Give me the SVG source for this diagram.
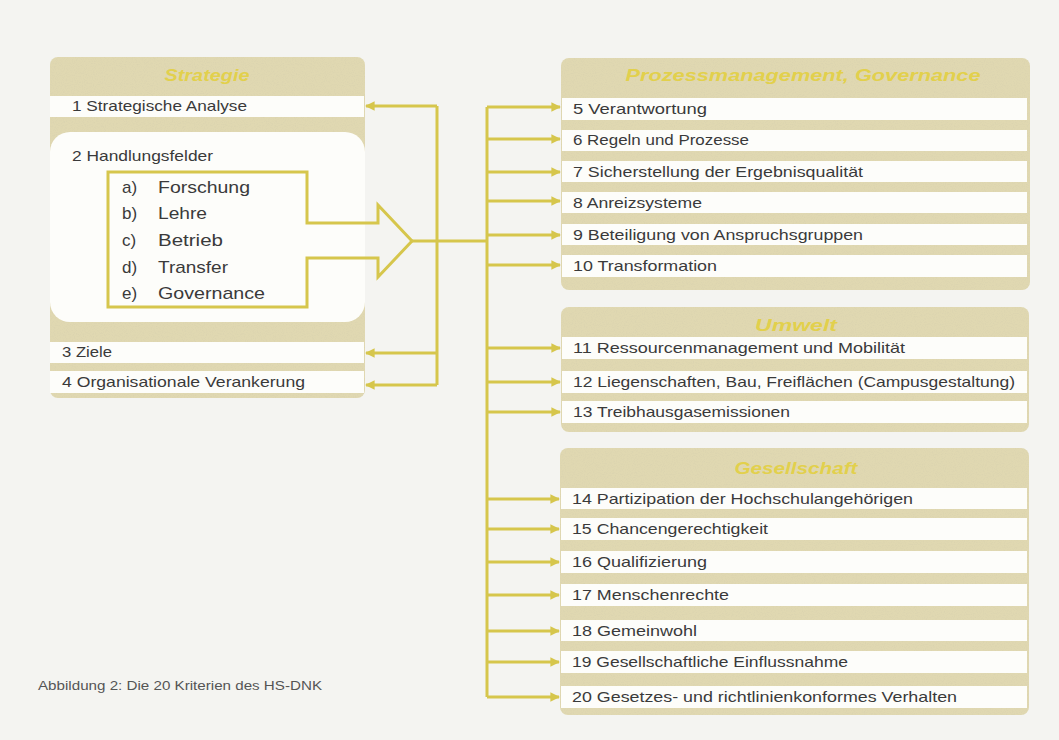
<svg xmlns="http://www.w3.org/2000/svg" width="1059" height="740" viewBox="0 0 1059 740">
<defs>
<style>
.panel{fill:#e0d8b1;}
.row{fill:#fdfdfa;}
.t{font-family:"Liberation Sans",Arial,sans-serif;font-size:15px;fill:#3a3a3a;}
.big{font-family:"Liberation Sans",Arial,sans-serif;font-size:17px;fill:#3a3a3a;}
.hd{font-family:"Liberation Sans",Arial,sans-serif;font-size:17px;font-weight:bold;font-style:italic;fill:#e2d04c;text-anchor:middle;}
.cap{font-family:"Liberation Sans",Arial,sans-serif;font-size:12px;fill:#555;}
.con{fill:none;stroke:#d6c64c;stroke-width:3;}
</style>
<marker id="ah" viewBox="0 0 10 10" refX="9" refY="5" markerWidth="3.4" markerHeight="3.2" orient="auto" markerUnits="strokeWidth">
<path d="M0,0 L10,5 L0,10 Z" fill="#d6c64c"/>
</marker>
<filter id="grain" x="0" y="0" width="100%" height="100%">
<feTurbulence type="fractalNoise" baseFrequency="0.9" numOctaves="2" seed="3" result="n"/>
<feColorMatrix type="matrix" values="0 0 0 0 0.55  0 0 0 0 0.52  0 0 0 0 0.4  0 0 0 -1.6 0.9" in="n" result="c"/>
<feComposite in="c" in2="SourceGraphic" operator="in"/>
</filter>
</defs>
<rect width="1059" height="740" fill="#f4f4f1"/>

<g id="strategie">
<rect class="panel" x="50" y="57" width="315" height="341" rx="8"/>
<rect x="50" y="57" width="315" height="341" rx="8" fill="#000" filter="url(#grain)" opacity="0.25"/>
<text class="hd" x="207" y="81" textLength="85" lengthAdjust="spacingAndGlyphs">Strategie</text>
<g id="k1"><rect class="row" x="50" y="96" width="314" height="21"/><text class="t" x="72" y="111" textLength="175" lengthAdjust="spacingAndGlyphs">1 Strategische Analyse</text></g>
<g id="k2">
<rect class="row" x="50" y="132" width="315" height="190" rx="20"/>
<text class="t" x="72" y="161" textLength="141" lengthAdjust="spacingAndGlyphs">2 Handlungsfelder</text>
<text class="big" x="122" y="193">a)</text><text class="big" x="158" y="193" textLength="92" lengthAdjust="spacingAndGlyphs">Forschung</text>
<text class="big" x="122" y="219">b)</text><text class="big" x="158" y="219" textLength="49" lengthAdjust="spacingAndGlyphs">Lehre</text>
<text class="big" x="122" y="246">c)</text><text class="big" x="158" y="246" textLength="65" lengthAdjust="spacingAndGlyphs">Betrieb</text>
<text class="big" x="122" y="273">d)</text><text class="big" x="158" y="273" textLength="70" lengthAdjust="spacingAndGlyphs">Transfer</text>
<text class="big" x="122" y="299">e)</text><text class="big" x="158" y="299" textLength="107" lengthAdjust="spacingAndGlyphs">Governance</text>
</g>
<g id="k3"><rect class="row" x="50" y="342" width="314" height="21"/><text class="t" x="62" y="357" textLength="50" lengthAdjust="spacingAndGlyphs">3 Ziele</text></g>
<g id="k4"><rect class="row" x="50" y="371" width="314" height="22"/><text class="t" x="62" y="387" textLength="243" lengthAdjust="spacingAndGlyphs">4 Organisationale Verankerung</text></g>
</g>

<g id="prozess">
<rect class="panel" x="561" y="58" width="469" height="232" rx="8"/>
<rect x="561" y="58" width="469" height="232" rx="8" fill="#000" filter="url(#grain)" opacity="0.25"/>
<text class="hd" x="803" y="81" textLength="355" lengthAdjust="spacingAndGlyphs">Prozessmanagement, Governance</text>
<g id="k5"><rect class="row" x="562" y="98" width="465" height="22"/><text class="t" x="573" y="114" textLength="134" lengthAdjust="spacingAndGlyphs">5 Verantwortung</text></g>
<g id="k6"><rect class="row" x="562" y="130" width="465" height="21"/><text class="t" x="573" y="145" textLength="176" lengthAdjust="spacingAndGlyphs">6 Regeln und Prozesse</text></g>
<g id="k7"><rect class="row" x="562" y="161" width="465" height="21"/><text class="t" x="573" y="177" textLength="290" lengthAdjust="spacingAndGlyphs">7 Sicherstellung der Ergebnisqualität</text></g>
<g id="k8"><rect class="row" x="562" y="192" width="465" height="21"/><text class="t" x="573" y="208" textLength="129" lengthAdjust="spacingAndGlyphs">8 Anreizsysteme</text></g>
<g id="k9"><rect class="row" x="562" y="224" width="465" height="21"/><text class="t" x="573" y="240" textLength="290" lengthAdjust="spacingAndGlyphs">9 Beteiligung von Anspruchsgruppen</text></g>
<g id="k10"><rect class="row" x="562" y="255" width="465" height="22"/><text class="t" x="573" y="271" textLength="144" lengthAdjust="spacingAndGlyphs">10 Transformation</text></g>
</g>

<g id="umwelt">
<rect class="panel" x="561" y="307" width="468" height="125" rx="8"/>
<rect x="561" y="307" width="468" height="125" rx="8" fill="#000" filter="url(#grain)" opacity="0.25"/>
<text class="hd" x="796" y="331" textLength="82" lengthAdjust="spacingAndGlyphs">Umwelt</text>
<g id="k11"><rect class="row" x="562" y="337" width="465" height="22"/><text class="t" x="573" y="353" textLength="332" lengthAdjust="spacingAndGlyphs">11 Ressourcenmanagement und Mobilität</text></g>
<g id="k12"><rect class="row" x="562" y="371" width="465" height="22"/><text class="t" x="573" y="387" textLength="442" lengthAdjust="spacingAndGlyphs">12 Liegenschaften, Bau, Freiflächen (Campusgestaltung)</text></g>
<g id="k13"><rect class="row" x="562" y="401" width="465" height="22"/><text class="t" x="573" y="417" textLength="217" lengthAdjust="spacingAndGlyphs">13 Treibhausgasemissionen</text></g>
</g>

<g id="gesellschaft">
<rect class="panel" x="560" y="448" width="469" height="267" rx="8"/>
<rect x="560" y="448" width="469" height="267" rx="8" fill="#000" filter="url(#grain)" opacity="0.25"/>
<text class="hd" x="796" y="474" textLength="123" lengthAdjust="spacingAndGlyphs">Gesellschaft</text>
<g id="k14"><rect class="row" x="561" y="488" width="466" height="21"/><text class="t" x="572" y="504" textLength="341" lengthAdjust="spacingAndGlyphs">14 Partizipation der Hochschulangehörigen</text></g>
<g id="k15"><rect class="row" x="561" y="518" width="466" height="22"/><text class="t" x="572" y="534" textLength="196" lengthAdjust="spacingAndGlyphs">15 Chancengerechtigkeit</text></g>
<g id="k16"><rect class="row" x="561" y="551" width="466" height="22"/><text class="t" x="572" y="567" textLength="135" lengthAdjust="spacingAndGlyphs">16 Qualifizierung</text></g>
<g id="k17"><rect class="row" x="561" y="584" width="466" height="22"/><text class="t" x="572" y="600" textLength="157" lengthAdjust="spacingAndGlyphs">17 Menschenrechte</text></g>
<g id="k18"><rect class="row" x="561" y="620" width="466" height="21"/><text class="t" x="572" y="636" textLength="125" lengthAdjust="spacingAndGlyphs">18 Gemeinwohl</text></g>
<g id="k19"><rect class="row" x="561" y="651" width="466" height="22"/><text class="t" x="572" y="667" textLength="276" lengthAdjust="spacingAndGlyphs">19 Gesellschaftliche Einflussnahme</text></g>
<g id="k20"><rect class="row" x="561" y="686" width="466" height="22"/><text class="t" x="572" y="702" textLength="385" lengthAdjust="spacingAndGlyphs">20 Gesetzes- und richtlinienkonformes Verhalten</text></g>
</g>

<g id="connectors">
<path class="con" d="M108,172 H307 V223 H378 V205 L412,241 L378,277 V258 H307 V307 H108 Z" stroke-linejoin="miter"/>
<path class="con" d="M412,241 H487"/>
<path class="con" d="M437,106 V385"/>
<path class="con" d="M487,107 V697"/>
<path class="con" d="M437,106 H366" marker-end="url(#ah)"/>
<path class="con" d="M437,353 H366" marker-end="url(#ah)"/>
<path class="con" d="M437,385 H366" marker-end="url(#ah)"/>
<path class="con" d="M487,107 H560" marker-end="url(#ah)"/>
<path class="con" d="M487,139 H560" marker-end="url(#ah)"/>
<path class="con" d="M487,172 H560" marker-end="url(#ah)"/>
<path class="con" d="M487,201 H560" marker-end="url(#ah)"/>
<path class="con" d="M487,235 H560" marker-end="url(#ah)"/>
<path class="con" d="M487,265 H560" marker-end="url(#ah)"/>
<path class="con" d="M487,348 H560" marker-end="url(#ah)"/>
<path class="con" d="M487,382 H560" marker-end="url(#ah)"/>
<path class="con" d="M487,412 H560" marker-end="url(#ah)"/>
<path class="con" d="M487,499 H559" marker-end="url(#ah)"/>
<path class="con" d="M487,529 H559" marker-end="url(#ah)"/>
<path class="con" d="M487,562 H559" marker-end="url(#ah)"/>
<path class="con" d="M487,595 H559" marker-end="url(#ah)"/>
<path class="con" d="M487,631 H559" marker-end="url(#ah)"/>
<path class="con" d="M487,662 H559" marker-end="url(#ah)"/>
<path class="con" d="M487,697 H559" marker-end="url(#ah)"/>
</g>

<text class="cap" x="38" y="690" textLength="284" lengthAdjust="spacingAndGlyphs">Abbildung 2: Die 20 Kriterien des HS-DNK</text>
</svg>
